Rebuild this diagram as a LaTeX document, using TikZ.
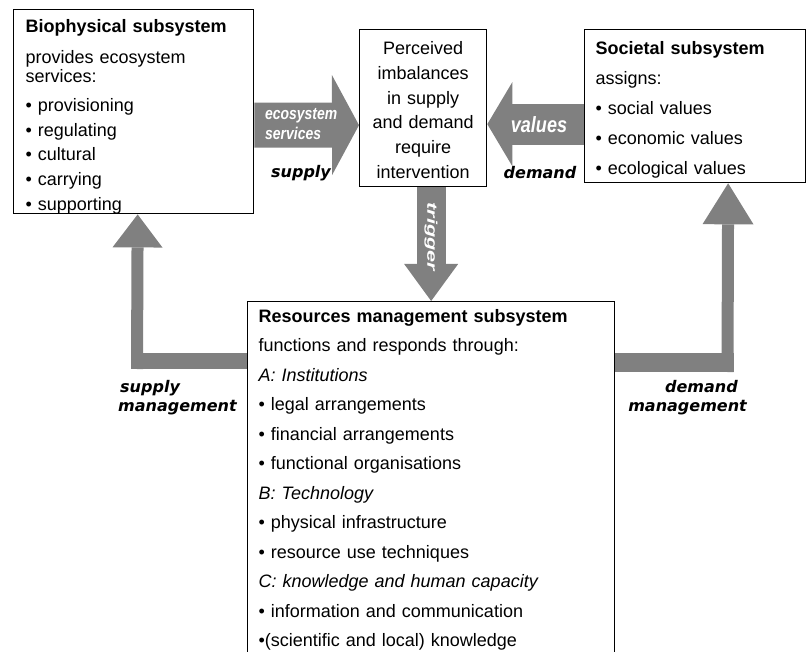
\documentclass[tikz,border=0pt]{standalone}
\usepackage{fontspec}
\setmainfont{Liberation Sans}
\newfontfamily\tagfont{DejaVu Sans}
\newfontfamily\narrowfont[FakeStretch=0.82]{Liberation Sans}
\newfontfamily\longfont[FakeStretch=1.55]{Liberation Sans}
\usetikzlibrary{arrows.meta,positioning,calc}
\definecolor{ArrowGrey}{RGB}{128,128,128}
\tikzset{
  sysbox/.style={draw=black, line width=1.3pt, fill=white, anchor=north west,
    align=left, text width=#1, inner xsep=11pt, inner ysep=0pt},
  sysbox/.default=199pt,
  midbox/.style={draw=black, line width=1.3pt, fill=white, anchor=north west,
    align=center, text width=#1, inner xsep=4pt, inner ysep=0pt},
  midbox/.default=119pt,
  bigarr/.style n args={3}{draw=ArrowGrey, line width=#1, line cap=butt,
    -{Triangle[width=#2, length=#3, line width=0pt]}},
  bigshaft/.style={draw=ArrowGrey, line width=#1, line cap=butt},
  arrtag/.style={font=\tagfont\fontsize{16}{19}\selectfont\bfseries\itshape, inner sep=0pt},
  arrtagin/.style={text=white, inner sep=0pt},
}

\begin{document}
\begin{tikzpicture}[x=1pt, y=1pt]
  \useasboundingbox (0,0) rectangle (806,-652);
  \clip (0,0) rectangle (806,-652);
  % ---- subsystems ----
  \node[sysbox=216pt, inner xsep=12pt, minimum height=204pt,
        font=\fontsize{18}{24.6}\selectfont] (bio) at (13,-9) {%
    \rule{0pt}{23pt}\textbf{Biophysical subsystem}\\[6.4pt]
    provides ecosystem\\[-5.6pt]
    services:\\[4.4pt]
    \textbullet{} provisioning\\
    \textbullet{} regulating\\
    \textbullet{} cultural\\
    \textbullet{} carrying\\
    \textbullet{} supporting};
  \node[midbox=119pt, minimum height=157pt,
        font=\fontsize{18}{24.8}\selectfont] (per) at (359,-29) {%
    \rule{0pt}{17pt}Perceived\\imbalances\\in supply\\and demand\\require\\intervention};
  \node[sysbox=199pt, minimum height=153pt,
        font=\fontsize{18}{29.9}\selectfont] (soc) at (584,-29) {%
    \rule{0pt}{20.4pt}\textbf{Societal subsystem}\\
    assigns:\\
    \textbullet{} social values\\
    \textbullet{} economic values\\
    \textbullet{} ecological values};
  \node[sysbox=345pt, inner ysep=6pt,
        font=\fontsize{18}{29.5}\selectfont] (res) at (247,-301) {%
    \rule{0pt}{14.7pt}\textbf{Resources management subsystem}\\
    functions and responds through:\\
    \textit{A: Institutions}\\
    \textbullet{} legal arrangements\\
    \textbullet{} financial arrangements\\
    \textbullet{} functional organisations\\
    \textit{B: Technology}\\
    \textbullet{} physical infrastructure\\
    \textbullet{} resource use techniques\\
    \textit{C: knowledge and human capacity}\\
    \textbullet{} information and communication\\
    \textbullet(scientific and local) knowledge};
  % ---- flows ----
  \coordinate (supH) at (131,-361);
  \coordinate (supV) at (137,-369);
  \coordinate (demH) at (733.5,-362.5);
  \coordinate (demV) at (727.5,-372);
  \draw[bigarr={45pt}{100pt}{27pt}] ([yshift=-13.5pt]bio.east) -- ([yshift=-17pt]per.west);
  \draw[bigarr={41pt}{84pt}{25pt}] ([yshift=-18pt]soc.west) -- ([yshift=-16pt]per.east);
  \draw[bigarr={29pt}{54pt}{37pt}] ([xshift=8pt]per.south) -- (res.north);
  \draw[bigshaft=16pt] ([yshift=-60pt]res.north west) -- (supH);
  \draw[bigarr={12pt}{50pt}{33pt}] (supV) -- ([xshift=4pt]bio.south);
  \draw[bigshaft=19pt] ([yshift=-61.5pt]res.north east) -- (demH);
  \draw[bigarr={12pt}{51pt}{41pt}] (demV) -- ([xshift=33pt]soc.south);
  % ---- labels ----
  \node[arrtagin, font=\narrowfont\fontsize{17}{20}\selectfont\bfseries\itshape,
        align=left, anchor=west] (ecoTag) at (265,-124) {ecosystem\\services};
  \node[arrtag, anchor=base] (supTag) at (301,-178) {supply};
  \node[arrtagin, font=\narrowfont\fontsize{22}{24}\selectfont\bfseries\itshape,
        anchor=base] (valTag) at (539,-133) {values};
  \node[arrtag, anchor=base] (demTag) at (540,-179) {demand};
  \node[arrtagin, font=\longfont\fontsize{14}{16}\selectfont\bfseries\itshape,
        rotate=-90] (trgTag) at (431,-237) {trigger};
  \node[arrtag, align=left, anchor=north west] (supMgTag) at (118,-380) {\hspace*{2pt}supply\\management};
  \node[arrtag, align=right, anchor=north east] (demMgTag) at (747,-380) {demand\hspace*{9pt}\\management};
\end{tikzpicture}
\end{document}
